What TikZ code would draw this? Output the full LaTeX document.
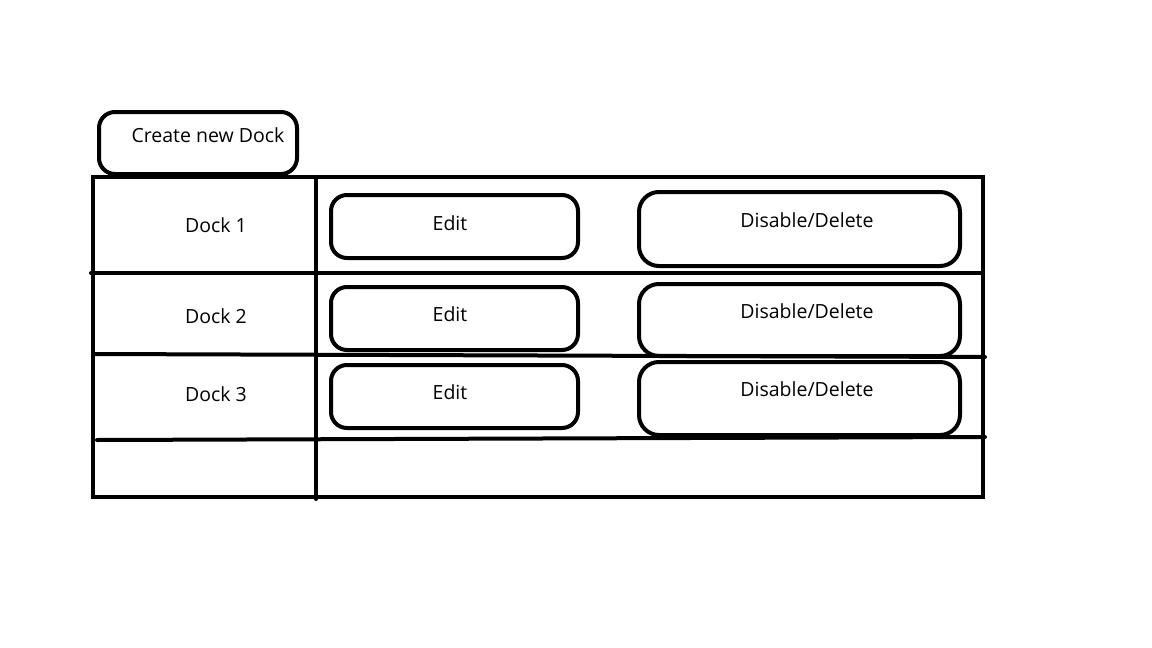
\documentclass[tikz,border=0pt]{standalone}
\usepackage{fontspec}
\setmainfont{Open Sans}
\usepackage{tikz}

\begin{document}
\begin{tikzpicture}[x=1pt,y=-1pt,
	btn/.style={draw=black,line width=4pt,rounded corners=16pt,inner sep=0pt},
	txt/.style={font=\fontsize{19.5}{22}\selectfont,inner sep=0pt},
	grid/.style={line width=4pt,line cap=round}]
	\useasboundingbox[fill=white] (0,0) rectangle (1152,648);

	% table
	\draw[grid] (93,177) rectangle (983,497);
	\draw[grid] (316,177) -- (316,499);
	\draw[grid] (91,273) -- (983,273);
	\draw[grid] (93,354) -- (985,357);
	\draw[grid] (97,440) -- (985,437);

	% buttons
	\node[btn,minimum width=198,minimum height=62] (create) at (198,143) {};
	\node[btn,minimum width=247,minimum height=63] (edit1) at (454.5,226.5) {};
	\node[btn,minimum width=247,minimum height=63] (edit2) at (454.5,318.5) {};
	\node[btn,minimum width=247,minimum height=63] (edit3) at (454.5,396.5) {};
	\node[btn,rounded corners=20pt,minimum width=321,minimum height=74] (del1) at (799.5,229) {};
	\node[btn,rounded corners=20pt,minimum width=321,minimum height=72] (del2) at (799.5,320) {};
	\node[btn,rounded corners=20pt,minimum width=321,minimum height=73] (del3) at (799.5,398.5) {};

	% texts
	\node[txt] (createtxt) at (208,135) {Create new Dock};
	\node[txt] (dock1) at (216,225) {Dock 1};
	\node[txt] (dock2) at (216,316) {Dock 2};
	\node[txt] (dock3) at (216,394) {Dock 3};
	\node[txt] (edittxt1) at (450,223) {Edit};
	\node[txt] (edittxt2) at (450,314) {Edit};
	\node[txt] (edittxt3) at (450,392) {Edit};
	\node[txt] (deltxt1) at (807,220) {Disable/Delete};
	\node[txt] (deltxt2) at (807,311) {Disable/Delete};
	\node[txt] (deltxt3) at (807,389) {Disable/Delete};
\end{tikzpicture}
\end{document}
